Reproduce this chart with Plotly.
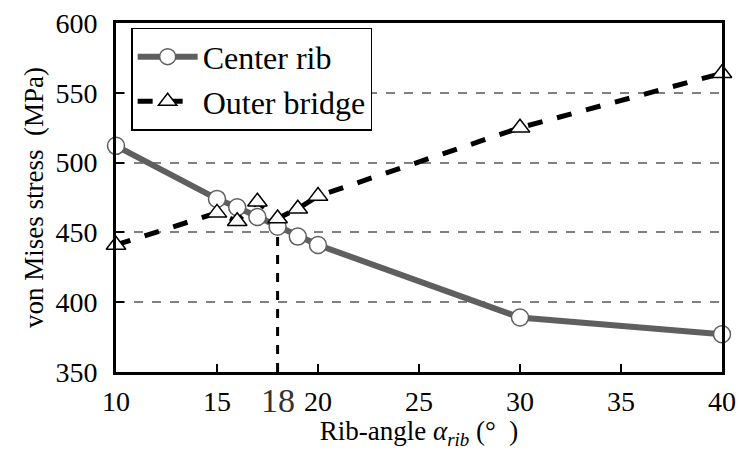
import plotly.graph_objects as go

angles = [10, 15, 16, 17, 18, 19, 20, 30, 40]
center_rib = [512, 474, 468, 461, 454, 447, 441, 389, 377]
outer_bridge = [441, 464, 458, 472, 460, 467, 476, 525, 564]
marked_angle = 18
marked_value = 454
x_ticks = [10, 15, 20, 25, 30, 35, 40]
y_ticks = [350, 400, 450, 500, 550, 600]

FONT = "Liberation Serif"

fig = go.Figure()

# vertical dashed marker line at 18 deg
fig.add_trace(go.Scatter(
    x=[marked_angle, marked_angle], y=[350, marked_value],
    mode="lines", line=dict(color="black", width=3, dash="dash"),
    showlegend=False, hoverinfo="skip"))

fig.add_trace(go.Scatter(
    x=angles, y=center_rib, name="Center rib",
    mode="lines+markers", cliponaxis=False,
    line=dict(color="#5f5f5f", width=6),
    marker=dict(symbol="circle", size=17, color="white",
                line=dict(color="#5f5f5f", width=1.5))))

fig.add_trace(go.Scatter(
    x=angles, y=outer_bridge, name="Outer bridge",
    mode="lines+markers", cliponaxis=False,
    line=dict(color="black", width=5, dash="dash"),
    marker=dict(symbol="triangle-up", size=17, color="white",
                line=dict(color="black", width=1.5))))

fig.add_annotation(x=marked_angle, y=0, xref="x", yref="paper",
                   text=str(marked_angle), showarrow=False,
                   yanchor="top", yshift=-8,
                   font=dict(family=FONT, size=34, color="#333333"))

fig.update_layout(
    width=740, height=450,
    margin=dict(l=116, r=18, t=23, b=78),
    paper_bgcolor="white", plot_bgcolor="white",
    font=dict(family=FONT, size=28, color="black"),
    legend=dict(x=0.025, y=0.986, xanchor="left", yanchor="top",
                bordercolor="black", borderwidth=1.5, bgcolor="white",
                font=dict(family=FONT, size=32, color="black"),
                tracegroupgap=0, itemwidth=60),
    xaxis=dict(range=[10, 40], tickvals=x_ticks, automargin=False,
               showline=True, linecolor="black", linewidth=3, mirror=True,
               ticks="inside", ticklen=8, tickwidth=2, tickcolor="black",
               showgrid=False, zeroline=False, ticklabelstandoff=2,
               tickfont=dict(family=FONT, size=28, color="black"),
               title=dict(text="Rib-angle <i>α</i><sub><i>rib</i></sub> (°\u00a0\u00a0)",
                          font=dict(family=FONT, size=27, color="black"),
                          standoff=4)),
    yaxis=dict(range=[350, 600], tickvals=y_ticks, automargin=False,
               showline=True, linecolor="black", linewidth=3, mirror=True,
               ticks="inside", ticklen=8, tickwidth=2, tickcolor="black",
               showgrid=True, gridcolor="#808080", gridwidth=2,
               griddash="dash", zeroline=False, ticklabelstandoff=10,
               tickfont=dict(family=FONT, size=28, color="black"),
               title=dict(text="von Mises stress\u00a0\u00a0(MPa)",
                          font=dict(family=FONT, size=27, color="black"),
                          standoff=4)),
)

fig.write_html("out.html")
